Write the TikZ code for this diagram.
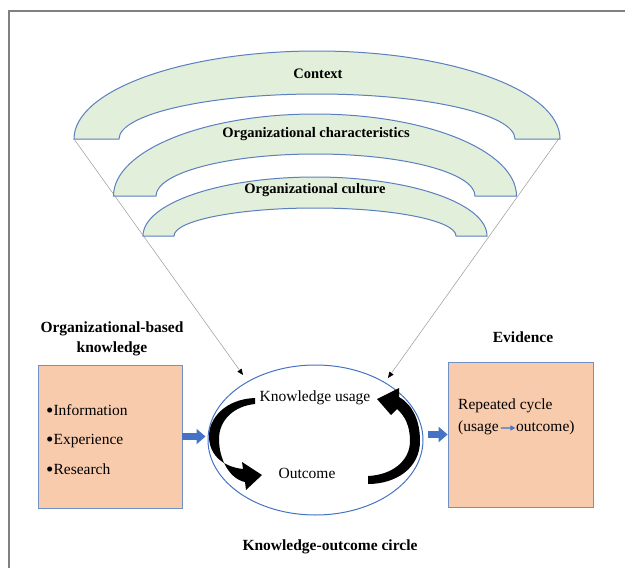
\documentclass[tikz,border=0pt]{standalone}
\usepackage{fontspec}
\setmainfont{Liberation Serif}
\usetikzlibrary{shapes.geometric,arrows.meta}
\definecolor{arcfill}{HTML}{E2EFDA}
\definecolor{arcline}{HTML}{5B7FBF}
\definecolor{boxfill}{HTML}{F8CBAD}
\definecolor{boxline}{HTML}{7090C8}
\definecolor{blu}{HTML}{4472C4}
\definecolor{framegray}{HTML}{808080}
\newcommand{\bigbul}{\raisebox{-2pt}{\fontsize{21}{20}\selectfont •}}
\begin{document}
\begin{tikzpicture}[x=1pt,y=-1pt,
  toplabel/.style={font=\fontsize{14.5}{17}\selectfont\bfseries, inner sep=0},
  lbl/.style={font=\fontsize{15.5}{20}\selectfont, inner sep=0},
  blbl/.style={font=\fontsize{15.5}{20}\selectfont\bfseries, inner sep=0},
  arcband/.style={fill=arcfill, draw=arcline, line width=1pt},
  box/.style={draw=boxline, fill=boxfill, line width=0.8pt, inner sep=0},
  feed/.style={draw=gray!80, line width=0.5pt, -{Triangle[length=6pt,width=5pt,black]}},
  bluearrow/.style={draw=blu, line width=6.5pt, -{Triangle[length=9pt,width=15pt]}},
  smallarrow/.style={draw=blu, line width=1.3pt, -{Triangle[length=5pt,width=5pt]}},
  curvedarrow/.style={fill=black}]
\useasboundingbox (0,0) rectangle (625,568);
% frame
\draw[framegray, line width=2pt] (9,568) -- (9,11) -- (625,11);
% arcs
\draw[arcband] (74,139) arc[start angle=180, end angle=360, x radius=243, y radius=88]
  -- (515,139) arc[start angle=360, end angle=180, x radius=198, y radius=45] -- cycle;
\draw[arcband] (113.5,196) arc[start angle=180, end angle=360, x radius=201.5, y radius=82]
  -- (475,196) arc[start angle=360, end angle=180, x radius=159.5, y radius=42] -- cycle;
\draw[arcband] (143,236) arc[start angle=180, end angle=360, x radius=172, y radius=59]
  -- (456,236) arc[start angle=360, end angle=180, x radius=141, y radius=28] -- cycle;
\node[toplabel] (ctx) at (318,74) {Context};
\node[toplabel] (och) at (316,134) {Organizational characteristics};
\node[toplabel] (ocu) at (315,190) {Organizational culture};
% cycle ellipse
\node[ellipse, draw=blu, line width=1pt, minimum width=215pt, minimum height=150pt, inner sep=0] (cyc) at (315.5,440) {};
% feed lines
\coordinate (aL) at (74,139);
\coordinate (aR) at (560,137);
\coordinate (tL) at (243,375);
\coordinate (tR) at (388,378);
\draw[feed] (aL) -- (tL);
\draw[feed] (aR) -- (tR);
% curved black arrows
\fill[curvedarrow] (255,398) .. controls (226,399) and (208,418) .. (209,438)
  .. controls (210,456) and (224,467) .. (243,469)
  -- (242,462) -- (262,475) -- (246,490) -- (245,482)
  .. controls (230,479) and (219,460) .. (219,439)
  .. controls (219,420) and (234,406) .. (255,404) -- cycle;
\fill[curvedarrow] (368,476) .. controls (392,475) and (410,461) .. (410,441)
  .. controls (410,426) and (405,416) .. (397,409)
  -- (391,415) -- (377,399) -- (399,388) -- (399,397)
  .. controls (413,405) and (420,421) .. (420,441)
  .. controls (420,468) and (396,484) .. (368,484) -- cycle;
\node[lbl] (ku) at (315,398) {Knowledge usage};
\node[lbl] (oc) at (307,473) {Outcome};
% left box
\node[box, minimum width=144pt, minimum height=143pt] (lbox) at (110,436.5) {};
\node[blbl, align=center] (obk) at (112,339) {Organizational-based\\knowledge};
\node[lbl, anchor=base west] (i1) at (46,415) {\bigbul Information};
\node[lbl, anchor=base west] (i2) at (46,444.5) {\bigbul Experience};
\node[lbl, anchor=base west] (i3) at (46,474) {\bigbul Research};
% right box
\node[box, minimum width=145pt, minimum height=145pt] (rbox) at (520.5,434.5) {};
\node[blbl] (ev) at (523,337) {Evidence};
\node[lbl, anchor=west] (rc) at (458,406) {Repeated cycle};
\node[lbl, anchor=west] (us) at (458,428) {(usage};
\node[lbl, anchor=base west] (out) at ([xshift=17pt]us.base east) {outcome)};
\draw[smallarrow] ([xshift=2pt]us.east) -- ([xshift=-0.5pt]out.west);
% blue block arrows
\draw[bluearrow] (lbox.east) -- ([xshift=-2pt]lbox.east -| cyc.west);
\draw[bluearrow, shorten <=4pt] (cyc.east |- rbox.west) -- (rbox.west);
% bottom label
\node[blbl] (koc) at (330,547) {Knowledge-outcome circle};
\end{tikzpicture}
\end{document}
